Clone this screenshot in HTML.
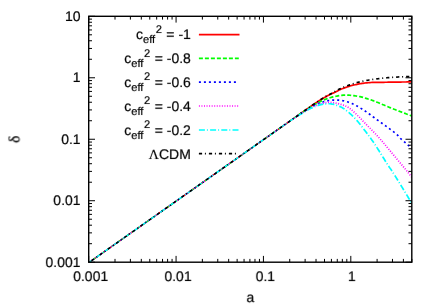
<!DOCTYPE html>
<html><head><meta charset="utf-8"><title>plot</title>
<style>html,body{margin:0;padding:0;background:#fff}body{width:436px;height:305px;overflow:hidden}</style></head>
<body>
<svg width="436" height="305" viewBox="0 0 436 305" style="display:block">
<rect width="436" height="305" fill="#fff"/>
<defs><filter id="g" x="-20%" y="-20%" width="140%" height="140%" color-interpolation-filters="sRGB"><feColorMatrix type="saturate" values="0"/></filter><filter id="g2" filterUnits="userSpaceOnUse" x="0" y="0" width="436" height="305" color-interpolation-filters="sRGB"><feColorMatrix type="saturate" values="0"/></filter><clipPath id="cp"><rect x="88.7" y="16.3" width="323.1" height="245.89999999999998"/></clipPath><clipPath id="cd"><polygon points="87.28,264.88 298.58,116.20 297.42,114.56 86.12,263.24"/><rect x="296" y="16.3" width="115.80000000000001" height="245.89999999999998"/></clipPath></defs>
<g clip-path="url(#cp)"><g fill="none" stroke-linejoin="round" clip-path="url(#cd)">
<path d="M88.70 262.65 L290.00 121.01 L291.00 120.30 L292.00 119.60 L293.00 118.90 L294.00 118.19 L295.00 117.49 L296.00 116.78 L297.00 116.08 L298.00 115.38 L299.00 114.67 L300.00 113.97 L301.00 113.27 L302.00 112.56 L303.00 111.86 L304.00 111.15 L305.00 110.45 L306.00 109.74 L307.00 109.04 L308.00 108.34 L309.00 107.64 L310.00 106.93 L311.00 106.23 L312.00 105.52 L313.00 104.82 L314.00 104.13 L315.00 103.45 L316.00 102.78 L317.00 102.12 L318.00 101.48 L319.00 100.84 L320.00 100.21 L321.00 99.58 L322.00 98.97 L323.00 98.37 L324.00 97.78 L325.00 97.21 L326.00 96.65 L327.00 96.10 L328.00 95.57 L329.00 95.05 L330.00 94.55 L331.00 94.07 L332.00 93.60 L333.00 93.15 L334.00 92.69 L335.00 92.22 L336.00 91.72 L337.00 91.18 L338.00 90.64 L339.00 90.11 L340.00 89.62 L341.00 89.19 L342.00 88.81 L343.00 88.45 L344.00 88.10 L345.00 87.76 L346.00 87.41 L347.00 87.05 L348.00 86.68 L349.00 86.33 L350.00 86.00 L351.00 85.70 L352.00 85.44 L353.00 85.20 L354.00 84.97 L355.00 84.76 L356.00 84.55 L357.00 84.34 L358.00 84.14 L359.00 83.94 L360.00 83.75 L361.00 83.58 L362.00 83.43 L363.00 83.29 L364.00 83.15 L365.00 83.03 L366.00 82.92 L367.00 82.83 L368.00 82.73 L369.00 82.64 L370.00 82.56 L371.00 82.49 L372.00 82.45 L373.00 82.43 L374.00 82.41 L375.00 82.39 L376.00 82.37 L377.00 82.36 L378.00 82.35 L379.00 82.34 L380.00 82.33 L381.00 82.32 L382.00 82.31 L383.00 82.29 L384.00 82.28 L385.00 82.26 L386.00 82.25 L387.00 82.24 L388.00 82.22 L389.00 82.21 L390.00 82.19 L391.00 82.18 L392.00 82.16 L393.00 82.15 L394.00 82.14 L395.00 82.12 L396.00 82.10 L397.00 82.09 L398.00 82.07 L399.00 82.06 L400.00 82.04 L401.00 82.03 L402.00 82.01 L403.00 82.00 L404.00 82.00 L405.00 81.99 L406.00 81.98 L407.00 81.97 L408.00 81.97 L409.00 81.96 L410.00 81.96 L411.00 81.95 L412.00 81.95" stroke="#ff0000" stroke-width="1.7"/>
<path d="M88.70 262.65 L290.00 121.01 L291.00 120.29 L292.00 119.58 L293.00 118.87 L294.00 118.16 L295.00 117.45 L296.00 116.75 L297.00 116.05 L298.00 115.36 L299.00 114.66 L300.00 113.97 L301.00 113.28 L302.00 112.59 L303.00 111.89 L304.00 111.21 L305.00 110.53 L306.00 109.85 L307.00 109.19 L308.00 108.55 L309.00 107.91 L310.00 107.28 L311.00 106.66 L312.00 106.04 L313.00 105.44 L314.00 104.85 L315.00 104.27 L316.00 103.72 L317.00 103.19 L318.00 102.68 L319.00 102.19 L320.00 101.72 L321.00 101.26 L322.00 100.79 L323.00 100.34 L324.00 99.90 L325.00 99.49 L326.00 99.10 L327.00 98.73 L328.00 98.37 L329.00 98.04 L330.00 97.74 L331.00 97.46 L332.00 97.19 L333.00 96.94 L334.00 96.71 L335.00 96.48 L336.00 96.27 L337.00 96.07 L338.00 95.88 L339.00 95.71 L340.00 95.54 L341.00 95.40 L342.00 95.30 L343.00 95.20 L344.00 95.12 L345.00 95.06 L346.00 95.05 L347.00 95.07 L348.00 95.12 L349.00 95.19 L350.00 95.27 L351.00 95.35 L352.00 95.45 L353.00 95.57 L354.00 95.71 L355.00 95.86 L356.00 96.01 L357.00 96.16 L358.00 96.31 L359.00 96.47 L360.00 96.65 L361.00 96.84 L362.00 97.07 L363.00 97.35 L364.00 97.67 L365.00 98.01 L366.00 98.33 L367.00 98.64 L368.00 98.96 L369.00 99.28 L370.00 99.60 L371.00 99.93 L372.00 100.27 L373.00 100.62 L374.00 100.99 L375.00 101.37 L376.00 101.76 L377.00 102.17 L378.00 102.58 L379.00 103.00 L380.00 103.42 L381.00 103.84 L382.00 104.26 L383.00 104.67 L384.00 105.09 L385.00 105.52 L386.00 105.94 L387.00 106.36 L388.00 106.78 L389.00 107.19 L390.00 107.59 L391.00 107.99 L392.00 108.39 L393.00 108.79 L394.00 109.18 L395.00 109.57 L396.00 109.96 L397.00 110.35 L398.00 110.74 L399.00 111.12 L400.00 111.51 L401.00 111.89 L402.00 112.27 L403.00 112.65 L404.00 113.03 L405.00 113.41 L406.00 113.79 L407.00 114.17 L408.00 114.55 L409.00 114.92 L410.00 115.30 L411.00 115.68 L412.00 116.05" stroke="#00ff00" stroke-width="1.7" stroke-dasharray="4 2" stroke-dashoffset="1.9"/>
<path d="M88.70 262.65 L290.00 121.01 L291.00 120.30 L292.00 119.60 L293.00 118.91 L294.00 118.22 L295.00 117.53 L296.00 116.85 L297.00 116.17 L298.00 115.49 L299.00 114.82 L300.00 114.15 L301.00 113.48 L302.00 112.81 L303.00 112.14 L304.00 111.47 L305.00 110.82 L306.00 110.18 L307.00 109.55 L308.00 108.95 L309.00 108.36 L310.00 107.78 L311.00 107.20 L312.00 106.64 L313.00 106.09 L314.00 105.56 L315.00 105.06 L316.00 104.58 L317.00 104.13 L318.00 103.70 L319.00 103.31 L320.00 102.93 L321.00 102.58 L322.00 102.25 L323.00 101.94 L324.00 101.64 L325.00 101.38 L326.00 101.12 L327.00 100.88 L328.00 100.67 L329.00 100.49 L330.00 100.36 L331.00 100.23 L332.00 100.13 L333.00 100.06 L334.00 100.05 L335.00 100.06 L336.00 100.09 L337.00 100.12 L338.00 100.15 L339.00 100.21 L340.00 100.31 L341.00 100.42 L342.00 100.56 L343.00 100.72 L344.00 100.92 L345.00 101.18 L346.00 101.46 L347.00 101.76 L348.00 102.06 L349.00 102.39 L350.00 102.75 L351.00 103.12 L352.00 103.53 L353.00 103.97 L354.00 104.45 L355.00 104.97 L356.00 105.50 L357.00 106.06 L358.00 106.62 L359.00 107.19 L360.00 107.78 L361.00 108.38 L362.00 109.00 L363.00 109.64 L364.00 110.29 L365.00 110.95 L366.00 111.62 L367.00 112.32 L368.00 113.04 L369.00 113.78 L370.00 114.53 L371.00 115.29 L372.00 116.04 L373.00 116.79 L374.00 117.52 L375.00 118.25 L376.00 118.97 L377.00 119.70 L378.00 120.42 L379.00 121.14 L380.00 121.87 L381.00 122.59 L382.00 123.31 L383.00 124.02 L384.00 124.73 L385.00 125.44 L386.00 126.16 L387.00 126.87 L388.00 127.60 L389.00 128.35 L390.00 129.10 L391.00 129.86 L392.00 130.61 L393.00 131.38 L394.00 132.16 L395.00 132.97 L396.00 133.82 L397.00 134.71 L398.00 135.68 L399.00 136.77 L400.00 137.90 L401.00 138.96 L402.00 139.89 L403.00 140.73 L404.00 141.53 L405.00 142.36 L406.00 143.24 L407.00 144.15 L408.00 145.06 L409.00 145.98 L410.00 146.90 L411.00 147.82 L412.00 148.75" stroke="#0000ff" stroke-width="1.7" stroke-dasharray="2 3" stroke-dashoffset="1.2"/>
<path d="M88.70 262.65 L290.00 121.01 L291.00 120.32 L292.00 119.64 L293.00 118.96 L294.00 118.29 L295.00 117.62 L296.00 116.96 L297.00 116.30 L298.00 115.65 L299.00 115.00 L300.00 114.35 L301.00 113.70 L302.00 113.05 L303.00 112.40 L304.00 111.76 L305.00 111.13 L306.00 110.51 L307.00 109.92 L308.00 109.35 L309.00 108.80 L310.00 108.25 L311.00 107.72 L312.00 107.20 L313.00 106.70 L314.00 106.22 L315.00 105.77 L316.00 105.35 L317.00 104.96 L318.00 104.61 L319.00 104.28 L320.00 103.97 L321.00 103.70 L322.00 103.42 L323.00 103.16 L324.00 102.94 L325.00 102.76 L326.00 102.63 L327.00 102.50 L328.00 102.40 L329.00 102.35 L330.00 102.37 L331.00 102.44 L332.00 102.55 L333.00 102.67 L334.00 102.80 L335.00 102.96 L336.00 103.14 L337.00 103.35 L338.00 103.57 L339.00 103.82 L340.00 104.10 L341.00 104.40 L342.00 104.72 L343.00 105.04 L344.00 105.37 L345.00 105.74 L346.00 106.17 L347.00 106.69 L348.00 107.29 L349.00 107.95 L350.00 108.65 L351.00 109.40 L352.00 110.22 L353.00 111.09 L354.00 112.01 L355.00 112.96 L356.00 113.92 L357.00 114.90 L358.00 115.87 L359.00 116.86 L360.00 117.88 L361.00 118.93 L362.00 119.99 L363.00 121.05 L364.00 122.12 L365.00 123.17 L366.00 124.21 L367.00 125.23 L368.00 126.24 L369.00 127.24 L370.00 128.24 L371.00 129.25 L372.00 130.27 L373.00 131.29 L374.00 132.34 L375.00 133.39 L376.00 134.46 L377.00 135.53 L378.00 136.62 L379.00 137.72 L380.00 138.84 L381.00 139.97 L382.00 141.12 L383.00 142.29 L384.00 143.47 L385.00 144.68 L386.00 145.89 L387.00 147.10 L388.00 148.30 L389.00 149.50 L390.00 150.70 L391.00 151.90 L392.00 153.10 L393.00 154.30 L394.00 155.50 L395.00 156.70 L396.00 157.90 L397.00 159.10 L398.00 160.30 L399.00 161.50 L400.00 162.69 L401.00 163.89 L402.00 165.09 L403.00 166.29 L404.00 167.51 L405.00 168.73 L406.00 169.96 L407.00 171.20 L408.00 172.43 L409.00 173.68 L410.00 174.93 L411.00 176.19 L412.00 177.45" stroke="#ff00ff" stroke-width="1.7" stroke-dasharray="1 1.55" stroke-dashoffset="-0.8"/>
<path d="M88.70 262.65 L290.00 121.01 L291.00 120.35 L292.00 119.70 L293.00 119.06 L294.00 118.42 L295.00 117.78 L296.00 117.15 L297.00 116.52 L298.00 115.89 L299.00 115.27 L300.00 114.65 L301.00 114.03 L302.00 113.41 L303.00 112.78 L304.00 112.17 L305.00 111.56 L306.00 110.97 L307.00 110.40 L308.00 109.85 L309.00 109.33 L310.00 108.83 L311.00 108.35 L312.00 107.89 L313.00 107.43 L314.00 106.97 L315.00 106.54 L316.00 106.13 L317.00 105.77 L318.00 105.44 L319.00 105.13 L320.00 104.85 L321.00 104.60 L322.00 104.36 L323.00 104.14 L324.00 103.96 L325.00 103.85 L326.00 103.81 L327.00 103.78 L328.00 103.76 L329.00 103.75 L330.00 103.77 L331.00 103.88 L332.00 104.04 L333.00 104.23 L334.00 104.44 L335.00 104.71 L336.00 105.04 L337.00 105.41 L338.00 105.79 L339.00 106.18 L340.00 106.61 L341.00 107.08 L342.00 107.60 L343.00 108.17 L344.00 108.81 L345.00 109.51 L346.00 110.25 L347.00 111.03 L348.00 111.85 L349.00 112.69 L350.00 113.55 L351.00 114.44 L352.00 115.38 L353.00 116.37 L354.00 117.39 L355.00 118.45 L356.00 119.54 L357.00 120.65 L358.00 121.79 L359.00 122.97 L360.00 124.20 L361.00 125.47 L362.00 126.77 L363.00 128.10 L364.00 129.43 L365.00 130.76 L366.00 132.08 L367.00 133.39 L368.00 134.71 L369.00 136.04 L370.00 137.38 L371.00 138.75 L372.00 140.15 L373.00 141.59 L374.00 143.06 L375.00 144.56 L376.00 146.08 L377.00 147.61 L378.00 149.17 L379.00 150.76 L380.00 152.37 L381.00 153.98 L382.00 155.60 L383.00 157.20 L384.00 158.82 L385.00 160.44 L386.00 162.05 L387.00 163.64 L388.00 165.18 L389.00 166.67 L390.00 168.13 L391.00 169.60 L392.00 171.11 L393.00 172.65 L394.00 174.22 L395.00 175.80 L396.00 177.40 L397.00 179.00 L398.00 180.61 L399.00 182.23 L400.00 183.86 L401.00 185.51 L402.00 187.16 L403.00 188.81 L404.00 190.46 L405.00 192.11 L406.00 193.76 L407.00 195.41 L408.00 197.05 L409.00 198.70 L410.00 200.35 L411.00 202.00 L412.00 203.65" stroke="#00ffff" stroke-width="1.7" stroke-dasharray="6 2 1 2.2" stroke-dashoffset="2.3"/>
<path d="M88.70 262.65 L290.00 121.01 L291.00 120.30 L292.00 119.60 L293.00 118.90 L294.00 118.19 L295.00 117.49 L296.00 116.78 L297.00 116.08 L298.00 115.38 L299.00 114.67 L300.00 113.97 L301.00 113.27 L302.00 112.56 L303.00 111.86 L304.00 111.16 L305.00 110.45 L306.00 109.75 L307.00 109.05 L308.00 108.34 L309.00 107.63 L310.00 106.92 L311.00 106.20 L312.00 105.49 L313.00 104.78 L314.00 104.07 L315.00 103.37 L316.00 102.69 L317.00 102.01 L318.00 101.34 L319.00 100.68 L320.00 100.02 L321.00 99.37 L322.00 98.73 L323.00 98.10 L324.00 97.50 L325.00 96.91 L326.00 96.35 L327.00 95.81 L328.00 95.29 L329.00 94.78 L330.00 94.25 L331.00 93.71 L332.00 93.17 L333.00 92.62 L334.00 92.08 L335.00 91.54 L336.00 90.99 L337.00 90.43 L338.00 89.86 L339.00 89.32 L340.00 88.80 L341.00 88.31 L342.00 87.85 L343.00 87.41 L344.00 86.99 L345.00 86.59 L346.00 86.21 L347.00 85.84 L348.00 85.50 L349.00 85.16 L350.00 84.83 L351.00 84.50 L352.00 84.16 L353.00 83.80 L354.00 83.46 L355.00 83.13 L356.00 82.82 L357.00 82.55 L358.00 82.29 L359.00 82.06 L360.00 81.83 L361.00 81.61 L362.00 81.39 L363.00 81.18 L364.00 80.98 L365.00 80.78 L366.00 80.59 L367.00 80.40 L368.00 80.22 L369.00 80.03 L370.00 79.86 L371.00 79.69 L372.00 79.53 L373.00 79.38 L374.00 79.24 L375.00 79.10 L376.00 78.97 L377.00 78.84 L378.00 78.72 L379.00 78.60 L380.00 78.48 L381.00 78.37 L382.00 78.26 L383.00 78.16 L384.00 78.06 L385.00 77.95 L386.00 77.85 L387.00 77.76 L388.00 77.67 L389.00 77.58 L390.00 77.49 L391.00 77.41 L392.00 77.34 L393.00 77.27 L394.00 77.21 L395.00 77.15 L396.00 77.09 L397.00 77.04 L398.00 76.99 L399.00 76.94 L400.00 76.89 L401.00 76.85 L402.00 76.80 L403.00 76.76 L404.00 76.72 L405.00 76.68 L406.00 76.64 L407.00 76.61 L408.00 76.57 L409.00 76.54 L410.00 76.51 L411.00 76.48 L412.00 76.45" stroke="#000000" stroke-width="1.7" stroke-dasharray="3.2 2.8 1 3" stroke-dashoffset="-3.4"/>
</g></g>
<path d="M88.70 262.2 V255.90 M88.70 16.3 V22.60 M115.00 262.2 V258.90 M115.00 16.3 V19.60 M130.38 262.2 V258.90 M130.38 16.3 V19.60 M141.30 262.2 V258.90 M141.30 16.3 V19.60 M149.77 262.2 V258.90 M149.77 16.3 V19.60 M156.68 262.2 V258.90 M156.68 16.3 V19.60 M162.53 262.2 V258.90 M162.53 16.3 V19.60 M167.60 262.2 V258.90 M167.60 16.3 V19.60 M172.07 262.2 V258.90 M172.07 16.3 V19.60 M176.07 262.2 V255.90 M176.07 16.3 V22.60 M202.37 262.2 V258.90 M202.37 16.3 V19.60 M217.75 262.2 V258.90 M217.75 16.3 V19.60 M228.67 262.2 V258.90 M228.67 16.3 V19.60 M237.13 262.2 V258.90 M237.13 16.3 V19.60 M244.05 262.2 V258.90 M244.05 16.3 V19.60 M249.90 262.2 V258.90 M249.90 16.3 V19.60 M254.97 262.2 V258.90 M254.97 16.3 V19.60 M259.44 262.2 V258.90 M259.44 16.3 V19.60 M263.43 262.2 V255.90 M263.43 16.3 V22.60 M289.73 262.2 V258.90 M289.73 16.3 V19.60 M305.12 262.2 V258.90 M305.12 16.3 V19.60 M316.03 262.2 V258.90 M316.03 16.3 V19.60 M324.50 262.2 V258.90 M324.50 16.3 V19.60 M331.42 262.2 V258.90 M331.42 16.3 V19.60 M337.27 262.2 V258.90 M337.27 16.3 V19.60 M342.33 262.2 V258.90 M342.33 16.3 V19.60 M346.80 262.2 V258.90 M346.80 16.3 V19.60 M350.80 262.2 V255.90 M350.80 16.3 V22.60 M377.10 262.2 V258.90 M377.10 16.3 V19.60 M392.48 262.2 V258.90 M392.48 16.3 V19.60 M403.40 262.2 V258.90 M403.40 16.3 V19.60 M411.87 262.2 V258.90 M411.87 16.3 V19.60 M88.7 262.20 H95.00 M411.8 262.20 H405.50 M88.7 243.69 H92.00 M411.8 243.69 H408.50 M88.7 232.87 H92.00 M411.8 232.87 H408.50 M88.7 225.19 H92.00 M411.8 225.19 H408.50 M88.7 219.23 H92.00 M411.8 219.23 H408.50 M88.7 214.36 H92.00 M411.8 214.36 H408.50 M88.7 210.25 H92.00 M411.8 210.25 H408.50 M88.7 206.68 H92.00 M411.8 206.68 H408.50 M88.7 203.54 H92.00 M411.8 203.54 H408.50 M88.7 200.72 H95.00 M411.8 200.72 H405.50 M88.7 182.22 H92.00 M411.8 182.22 H408.50 M88.7 171.39 H92.00 M411.8 171.39 H408.50 M88.7 163.71 H92.00 M411.8 163.71 H408.50 M88.7 157.76 H92.00 M411.8 157.76 H408.50 M88.7 152.89 H92.00 M411.8 152.89 H408.50 M88.7 148.77 H92.00 M411.8 148.77 H408.50 M88.7 145.21 H92.00 M411.8 145.21 H408.50 M88.7 142.06 H92.00 M411.8 142.06 H408.50 M88.7 139.25 H95.00 M411.8 139.25 H405.50 M88.7 120.74 H92.00 M411.8 120.74 H408.50 M88.7 109.92 H92.00 M411.8 109.92 H408.50 M88.7 102.24 H92.00 M411.8 102.24 H408.50 M88.7 96.28 H92.00 M411.8 96.28 H408.50 M88.7 91.41 H92.00 M411.8 91.41 H408.50 M88.7 87.30 H92.00 M411.8 87.30 H408.50 M88.7 83.73 H92.00 M411.8 83.73 H408.50 M88.7 80.59 H92.00 M411.8 80.59 H408.50 M88.7 77.78 H95.00 M411.8 77.78 H405.50 M88.7 59.27 H92.00 M411.8 59.27 H408.50 M88.7 48.44 H92.00 M411.8 48.44 H408.50 M88.7 40.76 H92.00 M411.8 40.76 H408.50 M88.7 34.81 H92.00 M411.8 34.81 H408.50 M88.7 29.94 H92.00 M411.8 29.94 H408.50 M88.7 25.82 H92.00 M411.8 25.82 H408.50 M88.7 22.26 H92.00 M411.8 22.26 H408.50 M88.7 19.11 H92.00 M411.8 19.11 H408.50 M88.7 16.30 H95.00 M411.8 16.30 H405.50" stroke="#000" stroke-width="1" fill="none"/>
<rect x="88.7" y="16.3" width="323.1" height="245.89999999999998" fill="none" stroke="#000" stroke-width="1.4"/>
<g font-family="Liberation Sans, sans-serif" font-size="14" fill="#000" stroke="#000" stroke-width="0.2" text-rendering="geometricPrecision" transform="rotate(0.02)" filter="url(#g2)">
<text x="80.6" y="20.60" text-anchor="end">10</text>
<text x="80.6" y="82.08" text-anchor="end">1</text>
<text x="80.6" y="143.55" text-anchor="end">0.1</text>
<text x="80.6" y="205.03" text-anchor="end">0.01</text>
<text x="80.6" y="266.50" text-anchor="end">0.001</text>
<text x="90.70" y="281.3" text-anchor="middle">0.001</text>
<text x="178.07" y="281.3" text-anchor="middle">0.01</text>
<text x="265.43" y="281.3" text-anchor="middle">0.1</text>
<text x="352.00" y="281.3" text-anchor="middle">1</text>
<text x="250.5" y="301.8" text-anchor="middle">a</text>
<text filter="url(#g)" font-family="Liberation Serif, serif" font-size="15.5" transform="translate(19.4,139.2) rotate(-90)" text-anchor="middle">δ</text>
<text x="190.9" y="39.20" text-anchor="end">c<tspan font-size="11.2" dy="4.0">eff</tspan><tspan font-size="11.2" dy="-10.5" dx="0.6">2</tspan><tspan dy="6.5" dx="0.5"> = -1</tspan></text>
<text x="190.9" y="63.00" text-anchor="end">c<tspan font-size="11.2" dy="4.0">eff</tspan><tspan font-size="11.2" dy="-10.5" dx="0.6">2</tspan><tspan dy="6.5" dx="0.5"> = -0.8</tspan></text>
<text x="190.9" y="86.80" text-anchor="end">c<tspan font-size="11.2" dy="4.0">eff</tspan><tspan font-size="11.2" dy="-10.5" dx="0.6">2</tspan><tspan dy="6.5" dx="0.5"> = -0.6</tspan></text>
<text x="190.9" y="110.60" text-anchor="end">c<tspan font-size="11.2" dy="4.0">eff</tspan><tspan font-size="11.2" dy="-10.5" dx="0.6">2</tspan><tspan dy="6.5" dx="0.5"> = -0.4</tspan></text>
<text x="190.9" y="134.60" text-anchor="end">c<tspan font-size="11.2" dy="4.0">eff</tspan><tspan font-size="11.2" dy="-10.5" dx="0.6">2</tspan><tspan dy="6.5" dx="0.5"> = -0.2</tspan></text>
<text x="190.9" y="158.90" text-anchor="end"><tspan font-family="Liberation Serif, serif">Λ</tspan>CDM</text>
</g>
<g fill="none">
<path d="M198.9 34.6 H239.5" stroke="#ff0000" stroke-width="1.7"/>
<path d="M198.9 58.4 H238.8" stroke="#00ff00" stroke-width="1.7" stroke-dasharray="4 2"/>
<path d="M198.9 82.2 H238.8" stroke="#0000ff" stroke-width="1.7" stroke-dasharray="2 3"/>
<path d="M198.9 106.0 H238.8" stroke="#ff00ff" stroke-width="1.7" stroke-dasharray="1 1.55"/>
<path d="M198.9 130.0 H238.8" stroke="#00ffff" stroke-width="1.7" stroke-dasharray="6 2 1 2.2"/>
<path d="M198.9 153.6 H238.8" stroke="#000000" stroke-width="1.7" stroke-dasharray="3.2 2.8 1 3"/>
</g>
</svg>
</body></html>
